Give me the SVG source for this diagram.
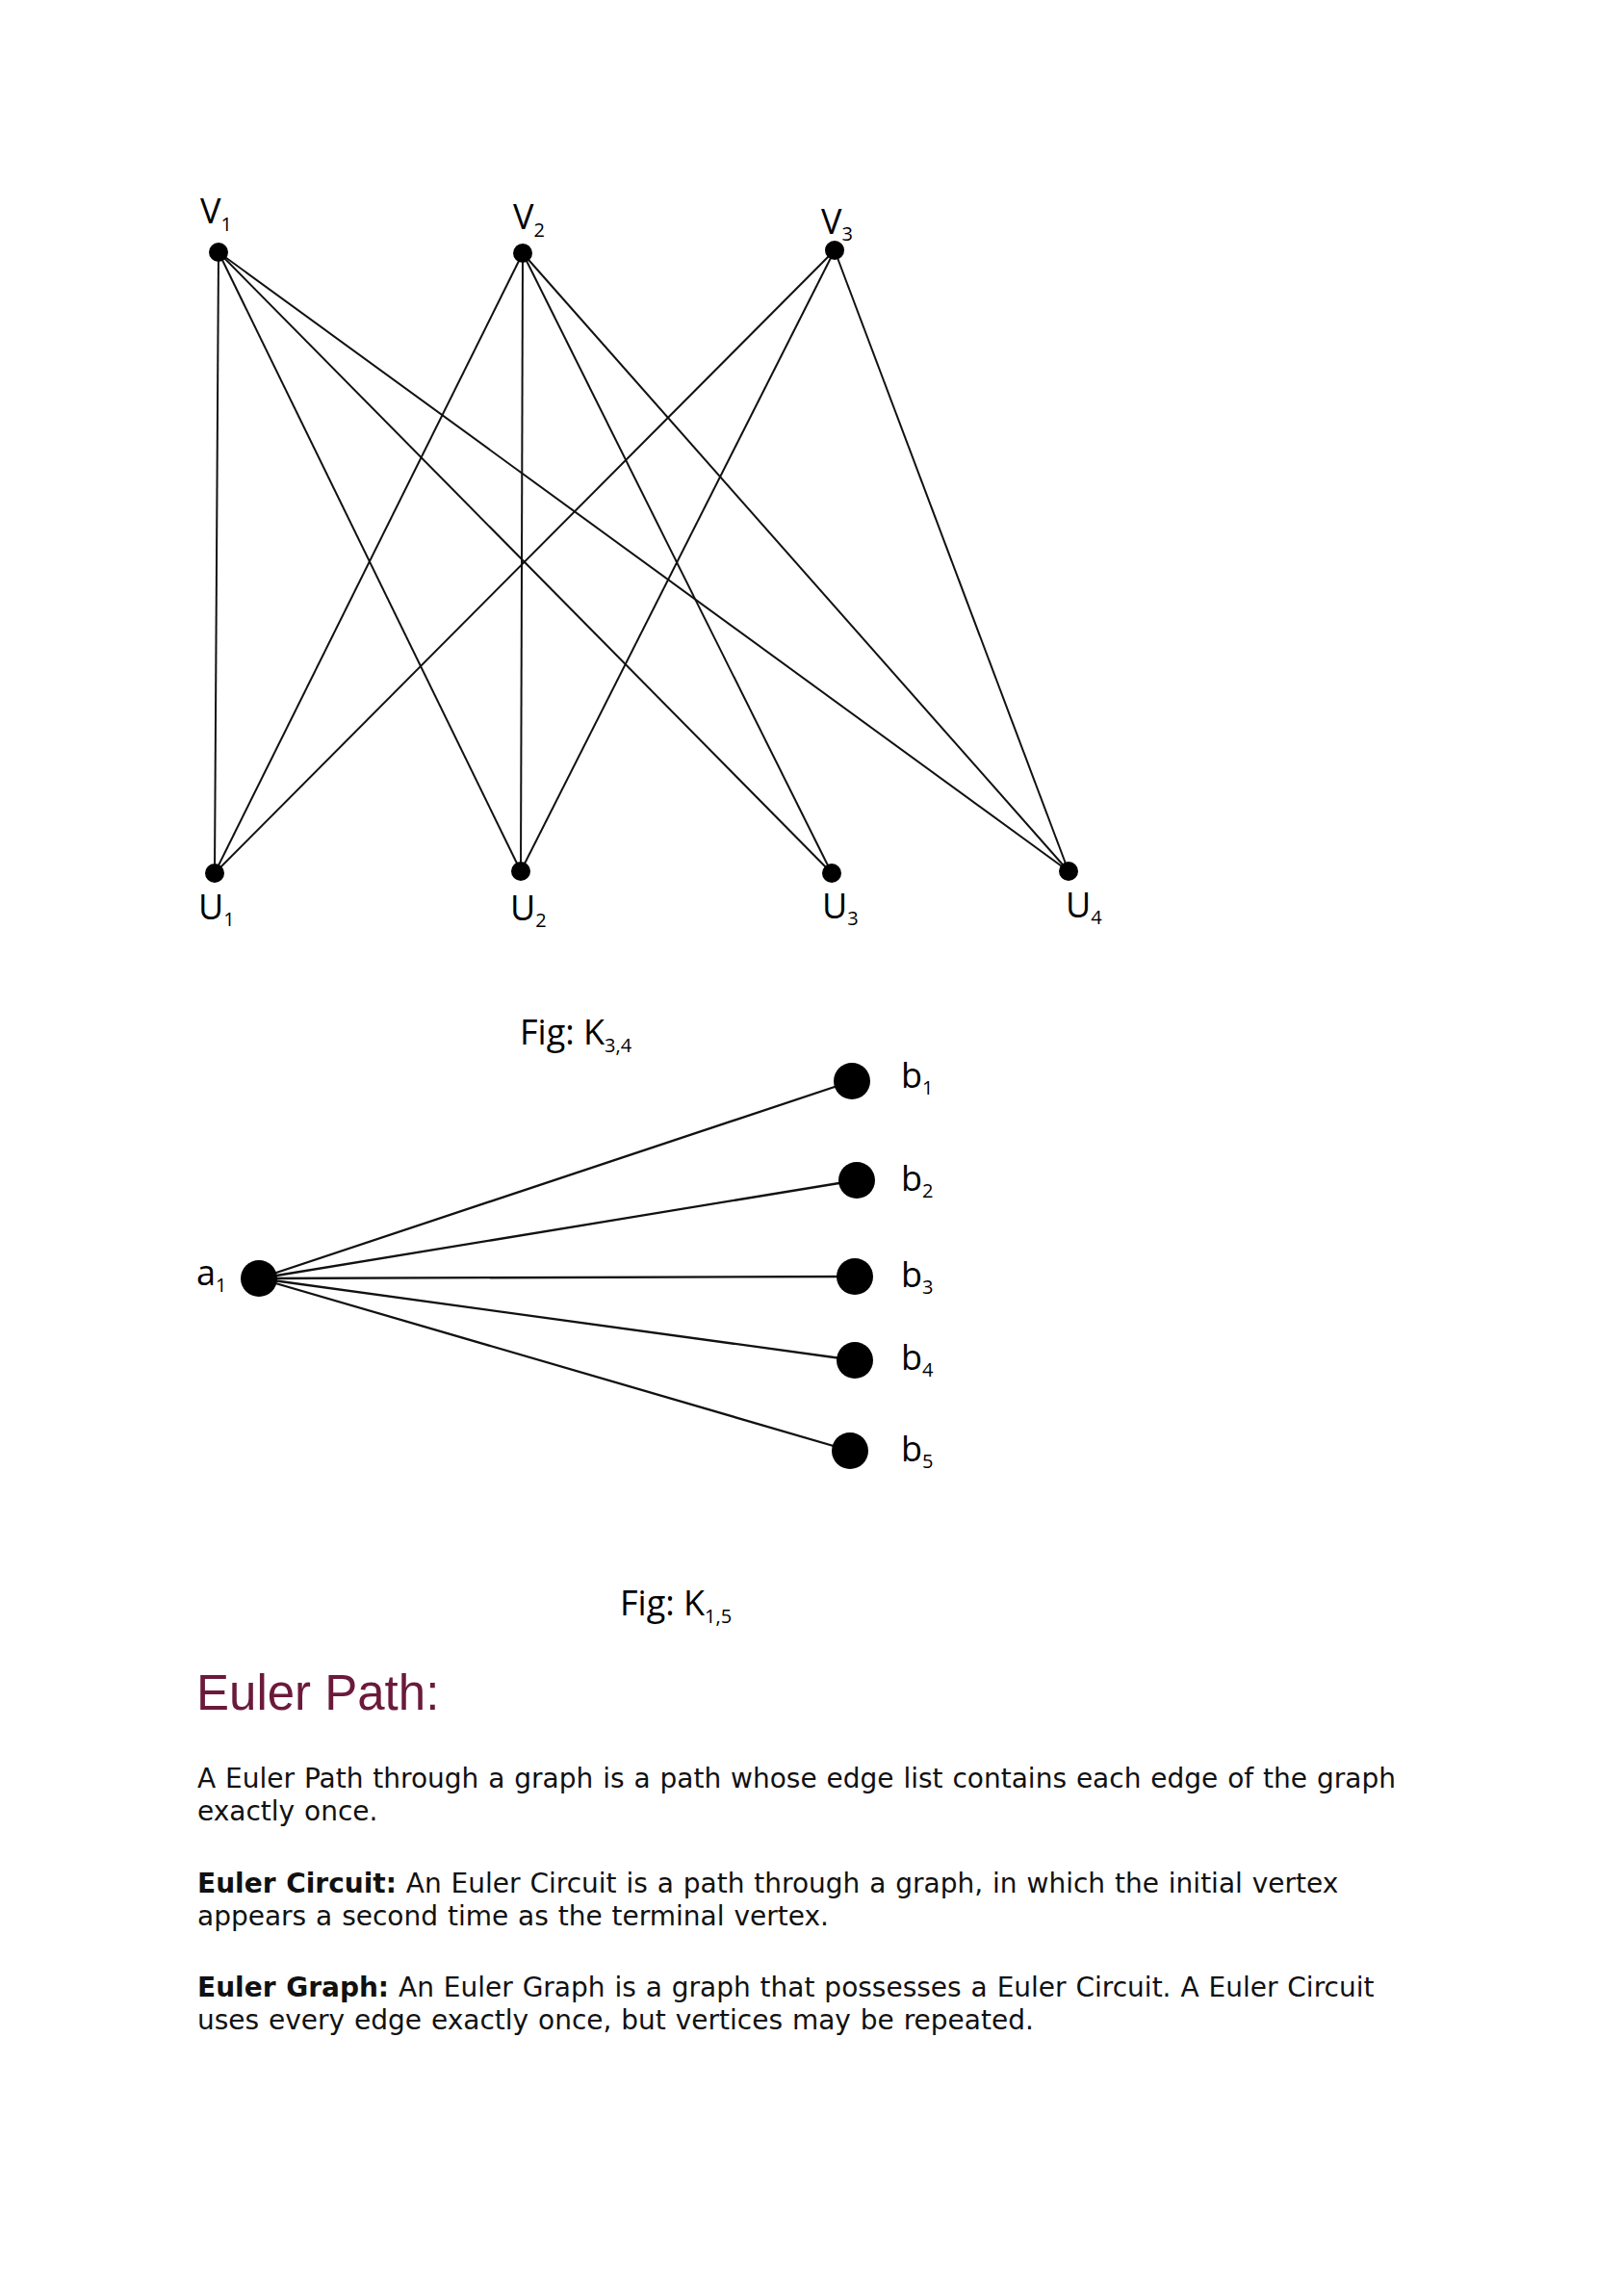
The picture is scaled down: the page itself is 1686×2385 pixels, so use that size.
<svg xmlns="http://www.w3.org/2000/svg" width="1686" height="2385" viewBox="0 0 1686 2385">
<style>
.lbl{font-family:"Open Sans","Liberation Sans",sans-serif;font-size:36px;fill:#000}
.sub{font-size:20px}
.e34{stroke:#111;stroke-width:2;fill:none}
.e15{stroke:#111;stroke-width:2.3;fill:none}
.dot{fill:#000}
.h{font-family:"Liberation Sans",Arial,sans-serif;font-size:51px;fill:#6b1a3c}
.p{font-family:"DejaVu Sans",Verdana,sans-serif;font-size:28px;fill:#111;word-spacing:1px}
.b{font-weight:bold}
</style>
<rect width="1686" height="2385" fill="#fff"/>
<g id="connectors">
<line class="e34" x1="227" y1="262" x2="223" y2="907"/>
<line class="e34" x1="227" y1="262" x2="541" y2="905"/>
<line class="e34" x1="227" y1="262" x2="864" y2="907" stroke-width="2.8"/>
<line class="e34" x1="227" y1="262" x2="1110" y2="905"/>
<line class="e34" x1="543" y1="263" x2="223" y2="907"/>
<line class="e34" x1="543" y1="263" x2="541" y2="905"/>
<line class="e34" x1="543" y1="263" x2="864" y2="907"/>
<line class="e34" x1="543" y1="263" x2="1110" y2="905"/>
<line class="e34" x1="867" y1="260" x2="223" y2="907" stroke-width="2.5"/>
<line class="e34" x1="867" y1="260" x2="541" y2="905"/>
<line class="e34" x1="867" y1="260" x2="1110" y2="905"/>
<line class="e15" x1="269" y1="1328" x2="885" y2="1123"/>
<line class="e15" x1="269" y1="1328" x2="890" y2="1226"/>
<line class="e15" x1="269" y1="1328" x2="888" y2="1326"/>
<line class="e15" x1="269" y1="1328" x2="888" y2="1413"/>
<line class="e15" x1="269" y1="1328" x2="883" y2="1507"/>
</g>
<g id="V1"><circle class="dot" cx="227" cy="262" r="10"/><text class="lbl" x="208" y="232">V<tspan class="sub" dy="8">1</tspan></text></g>
<g id="V2"><circle class="dot" cx="543" cy="263" r="10"/><text class="lbl" x="533" y="238">V<tspan class="sub" dy="8">2</tspan></text></g>
<g id="V3"><circle class="dot" cx="867" cy="260" r="10"/><text class="lbl" x="853" y="243">V<tspan class="sub" dy="7">3</tspan></text></g>
<g id="U1"><circle class="dot" cx="223" cy="907" r="10"/><text class="lbl" x="206" y="955">U<tspan class="sub" dy="7">1</tspan></text></g>
<g id="U2"><circle class="dot" cx="541" cy="905" r="10"/><text class="lbl" x="530" y="956">U<tspan class="sub" dy="7">2</tspan></text></g>
<g id="U3"><circle class="dot" cx="864" cy="907" r="10"/><text class="lbl" x="854" y="954">U<tspan class="sub" dy="7">3</tspan></text></g>
<g id="U4"><circle class="dot" cx="1110" cy="905" r="10"/><text class="lbl" x="1107" y="953">U<tspan class="sub" dy="7">4</tspan></text></g>
<g id="fig1"><text class="lbl" x="540" y="1085">Fig: K<tspan class="sub" dy="8">3,4</tspan></text></g>
<g id="a1"><circle class="dot" cx="269" cy="1328" r="19"/><text class="lbl" x="204" y="1335">a<tspan class="sub" dy="7">1</tspan></text></g>
<g id="b1"><circle class="dot" cx="885" cy="1123" r="19"/><text class="lbl" x="936" y="1130">b<tspan class="sub" dy="7">1</tspan></text></g>
<g id="b2"><circle class="dot" cx="890" cy="1226" r="19"/><text class="lbl" x="936" y="1237">b<tspan class="sub" dy="7">2</tspan></text></g>
<g id="b3"><circle class="dot" cx="888" cy="1326" r="19"/><text class="lbl" x="936" y="1337">b<tspan class="sub" dy="7">3</tspan></text></g>
<g id="b4"><circle class="dot" cx="888" cy="1413" r="19"/><text class="lbl" x="936" y="1423">b<tspan class="sub" dy="7">4</tspan></text></g>
<g id="b5"><circle class="dot" cx="883" cy="1507" r="19"/><text class="lbl" x="936" y="1518">b<tspan class="sub" dy="7">5</tspan></text></g>
<g id="fig2"><text class="lbl" x="644" y="1678">Fig: K<tspan class="sub" dy="8">1,5</tspan></text></g>
<g id="text">
<text class="h" x="204" y="1776">Euler Path:</text>
<text class="p" x="205" y="1857">A Euler Path through a graph is a path whose edge list contains each edge of the graph</text>
<text class="p" x="205" y="1891">exactly once.</text>
<text class="p" x="205" y="1966"><tspan class="b">Euler Circuit:</tspan> An Euler Circuit is a path through a graph, in which the initial vertex</text>
<text class="p" x="205" y="2000">appears a second time as the terminal vertex.</text>
<text class="p" x="205" y="2074"><tspan class="b">Euler Graph:</tspan> An Euler Graph is a graph that possesses a Euler Circuit. A Euler Circuit</text>
<text class="p" x="205" y="2108">uses every edge exactly once, but vertices may be repeated.</text>
</g>
</svg>
